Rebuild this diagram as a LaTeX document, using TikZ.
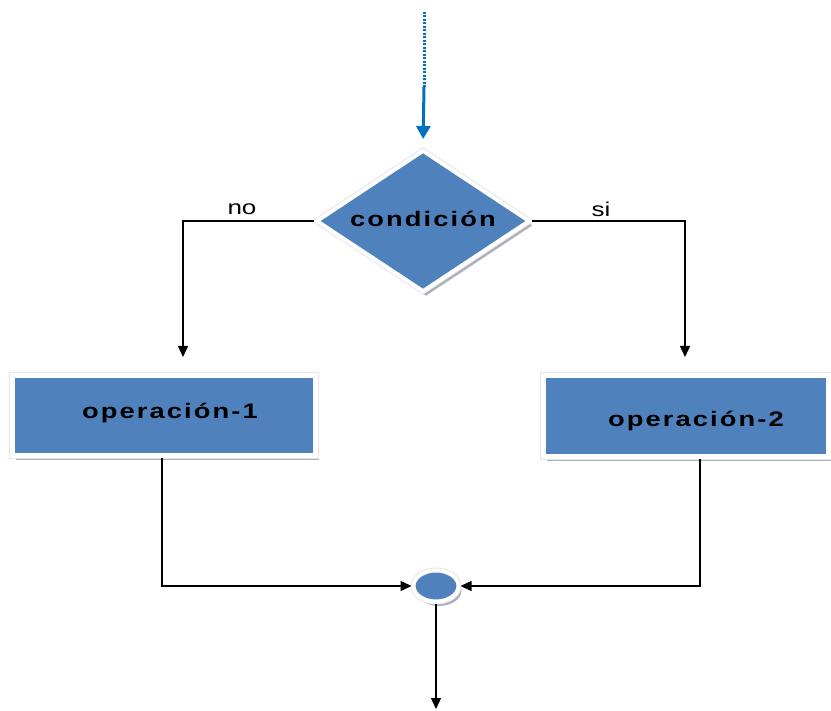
\documentclass[tikz,border=0pt]{standalone}
\usepackage{fontspec}
\setmainfont{Liberation Sans}
\newfontfamily\boxfont[FakeStretch=1.3,LetterSpace=10]{Liberation Sans}
\newfontfamily\labfont[FakeStretch=1.3]{Liberation Sans}
\usetikzlibrary{shapes.geometric,arrows.meta,shadows}
\definecolor{fillblue}{RGB}{79,129,189}
\definecolor{arrowblue}{RGB}{0,112,192}
\definecolor{shadowgray}{RGB}{150,156,168}
\definecolor{rimgray}{RGB}{228,230,234}
\begin{document}
\begin{tikzpicture}[x=1pt,y=-1pt,
  shape base/.style={fill=fillblue,draw=white,line width=4pt,
    drop shadow={shadow xshift=3pt,shadow yshift=-4.5pt,fill=shadowgray,opacity=0.8},
    preaction={draw=rimgray,line width=6pt}},
  dia/.style={shape base,diamond,aspect=1.514,minimum width=214pt,minimum height=142pt,inner sep=0pt,
    font=\boxfont\bfseries\fontsize{21pt}{24pt}\selectfont},
  opbox/.style={shape base,rectangle,line width=5pt,preaction={draw=rimgray,line width=7pt},inner sep=0pt},
  optext/.style={font=\boxfont\bfseries\fontsize{21pt}{24pt}\selectfont},
  junction/.style={shape base,ellipse,minimum width=45pt,minimum height=31pt,inner sep=0pt},
  conn/.style={draw=black,line width=1.4pt,-{Triangle[length=11pt,width=10pt]}},
  lab/.style={font=\labfont\fontsize{20pt}{24pt}\selectfont,inner sep=0pt}]
\useasboundingbox (0,0) rectangle (831,711);
% start arrow
\coordinate (s0) at (424,12);
\coordinate (s1) at (424,87);
\node[dia] (cond) at (423,221) {\raisebox{4pt}{condición}};
\draw[arrowblue,line width=3pt,dash pattern=on 2pt off 1.5pt] (s0) -- (s1);
\draw[arrowblue,line width=3pt,-{Triangle[length=13pt,width=14pt]},shorten >=9pt] (s1) -- (cond.north);
% operations
\node[opbox,minimum width=303pt,minimum height=80pt] (op1) at (164,416) {};
\node[optext] (t1) at (170,413) {operación-1};
\node[opbox,minimum width=285pt,minimum height=81pt] (op2) at (686,416) {};
\node[optext] (t2) at (696,421) {operación-2};
% junction
\node[junction] (junc) at (436,586) {};
% connectors
\coordinate (a1) at (183,357);
\coordinate (a2) at (685,357);
\coordinate (end) at (436,709);
\draw[conn] (cond.west) -| (a1);
\draw[conn] (cond.east) -| (a2);
\draw[conn] ([xshift=-2pt]op1.south) |- (junc.west);
\draw[conn] ([xshift=14pt]op2.south) |- (junc.east);
\draw[conn] (junc.south) -- (end);
% labels
\node[lab] (no) at (242,209) {no};
\node[lab] (si) at (601,209) {si};
\end{tikzpicture}
\end{document}
